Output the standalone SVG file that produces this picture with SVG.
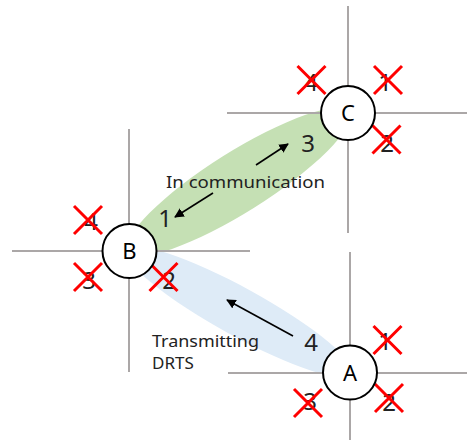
<svg xmlns="http://www.w3.org/2000/svg" width="467" height="440" viewBox="0 0 467 440">
<defs>
<style>
.bg{fill:#ffffff}
.axis{stroke:#ABA7A7;stroke-width:2;fill:none}
.node{fill:#ffffff;stroke:#000000;stroke-width:2}
.nlabel{font-family:"Noto Sans","DejaVu Sans",sans-serif;font-size:22px;fill:#000;text-anchor:middle}
.dig{font-family:"Noto Sans","DejaVu Sans",sans-serif;font-size:24px;fill:#222;text-anchor:middle}
.lbl{font-family:"Noto Sans","DejaVu Sans",sans-serif;font-size:17px;fill:#222}
.x{stroke:#FF0000;stroke-width:3;fill:none}
.arr{stroke:#000;stroke-width:1.6;fill:none;marker-end:url(#ah)}
</style>
<marker id="ah" viewBox="0 0 10 10" refX="9" refY="5" markerWidth="6" markerHeight="6" markerUnits="strokeWidth" orient="auto">
<path d="M0,0 L10,5 L0,10 z" fill="#000"/>
</marker>
<path id="cross" d="M-14,-14 L14,14 M14,-14 L-14,14"/>
</defs>
<rect class="bg" width="467" height="440"/>
<g id="regions">
<ellipse cx="238.5" cy="182" rx="130" ry="30" fill="#C5E0B4" transform="rotate(-32.2 238.5 182)"/>
<ellipse cx="239.5" cy="312" rx="128" ry="24" fill="#DEEBF7" transform="rotate(28.8 239.5 312)"/>
</g>
<g id="axes">
<line class="axis" x1="348" y1="6" x2="348" y2="233"/>
<line class="axis" x1="227" y1="113" x2="467" y2="113"/>
<line class="axis" x1="129" y1="129" x2="129" y2="372"/>
<line class="axis" x1="12" y1="251" x2="250" y2="251"/>
<line class="axis" x1="350" y1="252" x2="350" y2="440"/>
<line class="axis" x1="228" y1="373" x2="467" y2="373"/>
</g>
<g id="connectors">
<line class="arr" x1="213" y1="193" x2="175" y2="217"/>
<line class="arr" x1="256" y1="165" x2="288" y2="144"/>
<line class="arr" x1="293" y1="336" x2="227" y2="300"/>
</g>
<g id="labels">
<text class="lbl" x="166" y="188" textLength="159" lengthAdjust="spacingAndGlyphs">In communication</text>
<text class="lbl" x="152" y="347" textLength="107" lengthAdjust="spacingAndGlyphs">Transmitting</text>
<text class="lbl" x="152" y="369">DRTS</text>
<text class="dig" x="165" y="227">1</text>
<text class="dig" x="308" y="152">3</text>
<text class="dig" x="311" y="351">4</text>
</g>
<g id="node-C">
<text class="dig" x="311" y="91">4</text>
<text class="dig" x="385" y="91">1</text>
<text class="dig" x="387" y="152">2</text>
<use href="#cross" class="x" x="311.5" y="80"/>
<use href="#cross" class="x" x="388" y="80"/>
<use href="#cross" class="x" x="386.5" y="139.5"/>
<circle class="node" cx="348" cy="113" r="27"/>
<text class="nlabel" x="348" y="121">C</text>
</g>
<g id="node-B">
<text class="dig" x="91" y="230">4</text>
<text class="dig" x="89" y="289">3</text>
<text class="dig" x="169" y="289">2</text>
<use href="#cross" class="x" x="88" y="220"/>
<use href="#cross" class="x" x="88" y="277"/>
<use href="#cross" class="x" x="163.5" y="277"/>
<circle class="node" cx="129.5" cy="251" r="27"/>
<text class="nlabel" x="129.5" y="259">B</text>
</g>
<g id="node-A">
<text class="dig" x="385" y="350">1</text>
<text class="dig" x="389" y="411">2</text>
<text class="dig" x="310" y="410">3</text>
<use href="#cross" class="x" x="387.5" y="340"/>
<use href="#cross" class="x" x="389" y="398"/>
<use href="#cross" class="x" x="308" y="403"/>
<circle class="node" cx="350" cy="372.5" r="27"/>
<text class="nlabel" x="350" y="380.5">A</text>
</g>
</svg>
